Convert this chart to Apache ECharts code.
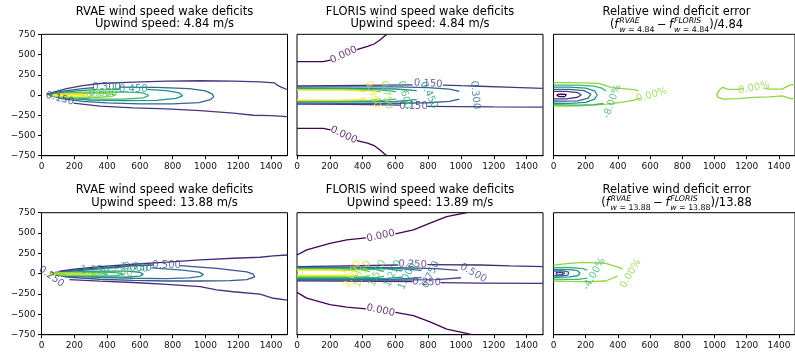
<!DOCTYPE html>
<html><head><meta charset="utf-8">
<script src="https://cdn.jsdelivr.net/npm/echarts@6/dist/echarts.min.js"></script>
<style>html,body{margin:0;padding:0;background:#fff}#c{width:795px;height:353px}</style>
</head><body><div id="c"></div>
<script>
// ---------- tick labels ----------
const X_TICKS = [0, 200, 400, 600, 800, 1000, 1200, 1400];
const Y_TICKS = [-750, -500, -250, 0, 250, 500, 750];

// ---------- titles ----------
const TITLES = [
  ['RVAE wind speed wake deficits', 'Upwind speed: 4.84 m/s'],
  ['FLORIS wind speed wake deficits', 'Upwind speed: 4.84 m/s'],
  ['Relative wind deficit error', null],
  ['RVAE wind speed wake deficits', 'Upwind speed: 13.88 m/s'],
  ['FLORIS wind speed wake deficits', 'Upwind speed: 13.89 m/s'],
  ['Relative wind deficit error', null]
];
const ERR_SPEEDS = ['4.84', '13.88'];

// ---------- Panel 1: RVAE, 4.84 m/s (contour segments, [x, y]) ----------
const P1_015 = [
  [[30,8],[80,40],[153,80],[250,115],[356,142],[560,160],[763,172],[967,176],[1170,172],[1333,163],[1420,150],[1440,118],[1465,95],[1500,65]],
  [[195,-100],[356,-138],[560,-160],[763,-172],[967,-192],[1170,-225],[1292,-250],[1400,-256],[1500,-268]]
];
const P1_030 = [[[320,92],[250,78],[120,45],[40,12],[28,0],[40,-12],[120,-45],[250,-78],[400,-98],[600,-110],[800,-110],[960,-95],[1030,-58],[1050,-20],[1040,15],[1000,50],[900,78],[700,95],[475,98]]];
const P1_045 = [[[480,72],[300,64],[150,40],[60,12],[45,0],[60,-15],[150,-42],[300,-62],[500,-70],[700,-66],[820,-42],[860,-10],[840,25],[760,55],[640,70]]];
const P1_060 = [[[60,0],[150,26],[300,36],[500,38],[620,26],[655,-6],[620,-36],[500,-50],[300,-48],[150,-32],[60,-8],[60,0]]];
const P1_075 = [[[55,0],[120,18],[250,24],[380,20],[450,4],[430,-16],[350,-28],[200,-28],[100,-20],[55,-5],[55,0]]];
const P1_090 = [[[70,0],[120,8],[230,10],[280,2],[230,-10],[120,-10],[70,-4],[70,0]]];
const P1_LABELS = [[112,-45,0.15,-15],[397,95,0.30,0],[560,72,0.45,0],[375,25,0.60,0],[360,8,0.75,0]];

// ---------- Panel 2: FLORIS, 4.84 m/s ----------
const P2_000 = [
  [[0,412],[160,412],[205,432]],
  [[365,560],[430,600],[470,630],[506,680],[547,750]],
  [[0,-412],[160,-412],[205,-432]],
  [[365,-565],[430,-595],[470,-625],[506,-680],[547,-750]]
];
const P2_015 = [
  [[0,111],[200,114],[400,118],[705,124]],
  [[890,122],[1000,115],[1116,108],[1319,95],[1500,82]],
  [[0,-112],[300,-116],[560,-122],[628,-126]],
  [[795,-140],[1000,-143],[1200,-146],[1500,-150]]
];
const P2_030 = [[[0,97],[300,100],[600,100],[800,92],[930,72],[990,45]],[[990,-50],[930,-78],[800,-96],[600,-102],[300,-102],[0,-99]]];
const P2_045 = [[[0,82],[300,82],[600,74],[730,55]],[[730,-58],[600,-78],[300,-83],[0,-83]]];
const P2_060 = [[[0,73],[300,73],[500,64],[605,42]],[[605,-50],[500,-70],[300,-75],[0,-75]]];
const P2_075 = [[[0,66],[300,66],[450,58],[510,40]],[[510,-45],[450,-64],[300,-69],[0,-69]]];
const P2_090 = [[[0,59],[250,59],[380,52],[420,35]],[[420,-40],[380,-58],[250,-63],[0,-63]]];
const P2_LABELS = [[285,495,0,25],[285,-495,0,-25],[800,140,0.15,-3],[710,-146,0.15,0],[1086,0,0.30,-85],[805,0,0.45,-65],[655,0,0.60,-75],[545,0,0.75,-80],[462,5,0.90,-70]];

// ---------- Panel 3: relative error, 4.84 m/s (percent levels) ----------
const P3_0 = [
  [[0,152],[120,152],[280,144],[320,118],[360,92],[430,80],[500,66],[528,50]],
  [[0,-136],[120,-136],[250,-126],[330,-112],[430,-88],[500,-62],[540,-40]],
  [[1180,78],[1138,70],[1080,72],[1050,95],[1030,60],[1015,10],[1018,-25],[1056,-50],[1150,-45],[1239,-30],[1340,-22],[1422,-12],[1463,-40],[1500,-48]],
  [[1310,80],[1341,72],[1420,72],[1445,100],[1473,124],[1500,128]]
];
const P3_M8 = [[[0,122],[150,122],[250,110],[300,85],[325,50]],[[0,-120],[150,-124],[250,-120],[310,-105]]];
const P3_M16 = [[[0,98],[100,98],[200,86],[255,50],[272,0],[255,-50],[200,-92],[100,-103],[0,-102]]];
const P3_M24 = [[[0,70],[100,70],[190,55],[232,12],[215,-38],[150,-72],[60,-76],[0,-74]]];
const P3_M32 = [[[0,44],[80,44],[150,30],[172,0],[150,-28],[80,-48],[0,-47]]];
const P3_M40 = [[[22,4],[45,12],[80,8],[90,-6],[70,-20],[38,-20],[22,-8],[22,4]]];
const P3_LABELS = [[610,0,0,15],[365,-80,-8,70],[1245,88,0,10]];

// ---------- Panel 4: RVAE, 13.88 m/s ----------
const P4_025 = [
  [[1500,230],[1414,218],[1333,202],[1170,190],[967,170],[763,142],[560,116],[356,86],[200,55],[110,30]],
  [[170,-72],[356,-92],[560,-108],[763,-132],[967,-160],[1068,-200],[1170,-222],[1333,-252],[1414,-302],[1500,-325]]
];
const P4_050 = [[[682,107],[560,98],[356,70],[153,36],[50,6],[42,-6],[153,-42],[356,-68],[560,-82],[763,-90],[967,-90],[1150,-85],[1252,-72],[1300,-38],[1290,-5],[1252,22],[1068,66],[845,100]]];
const P4_075 = [[[490,80],[356,60],[153,25],[60,5],[55,-8],[153,-30],[356,-46],[560,-56],[763,-60],[900,-52],[970,-32],[987,-8],[960,20],[860,45],[670,72]]];
const P4_100 = [[[65,0],[153,18],[356,32],[520,32],[600,18],[620,-8],[600,-30],[500,-42],[356,-40],[153,-25],[65,-8],[65,0]]];
const P4_125 = [[[75,0],[153,14],[280,22],[400,20],[480,8],[500,-6],[470,-22],[400,-30],[280,-30],[153,-20],[75,-6],[75,0]]];
const P4_150 = [[[60,6],[153,12],[300,12],[380,4],[400,-6],[380,-16],[300,-20],[153,-18],[60,-6],[60,6]]];
const P4_175 = [[[50,8],[150,10],[300,6],[336,-4],[300,-14],[150,-14],[50,-4],[50,8]]];
const P4_LABELS = [[60,-37,0.25,-35],[763,107,0.5,0],[585,78,0.75,-5],[565,70,1.0,-5],[326,45,1.25,0],[468,0,1.5,0]];

// ---------- Panel 5: FLORIS, 13.89 m/s ----------
const P5_000 = [
  [[0,230],[59,292],[201,374],[303,415],[420,440]],
  [[600,490],[710,538],[811,621],[913,703],[1035,752]],
  [[0,-230],[59,-300],[201,-380],[303,-410],[420,-432]],
  [[600,-475],[710,-515],[811,-592],[913,-682],[1075,-752]]
];
const P5_025 = [[[0,86],[300,95],[615,107]],[[795,112],[1116,107],[1300,95],[1500,86]],[[0,-88],[300,-92],[705,-96]],[[875,-110],[1116,-115],[1500,-120]]];
const P5_050 = [[[0,80],[300,80],[600,74],[850,62],[980,40]],[[1000,-50],[850,-72],[600,-78],[300,-79],[0,-78]]];
const P5_075 = [[[0,74],[300,74],[600,66],[760,40]],[[760,-48],[600,-68],[300,-70],[0,-68]]];
const P5_100 = [[[0,68],[300,68],[550,60],[640,35]],[[640,-42],[550,-58],[300,-60],[0,-58]]];
const P5_125 = [[[0,62],[300,62],[480,54],[530,30]],[[530,-32],[480,-48],[300,-50],[0,-48]]];
const P5_150 = [[[0,56],[250,56],[400,48],[445,25]],[[445,-24],[400,-38],[250,-40],[0,-38]]];
const P5_175 = [[[0,50],[200,50],[330,42],[370,20]],[[370,-18],[330,-30],[200,-30],[0,-28]]];
const P5_200 = [[[0,45],[150,45],[270,38],[300,20]],[[300,-10],[270,-20],[150,-20],[0,-18]]];
const P5_LABELS = [[510,465,0,12],[510,-452,0,-12],[705,115,0.25,-2],[790,-105,0.25,-2],[1075,8,0.5,-30],[816,-10,0.75,65],[672,-30,1.0,65],[585,0,1.25,65],[490,5,1.5,65],[400,-5,1.75,65],[338,-6,2.0,65]];

// ---------- Panel 6: relative error, 13.88 m/s (percent levels) ----------
const P6_0 = [[[0,105],[100,128],[183,140],[325,127],[400,80],[430,58]],[[0,-90],[100,-95],[223,-99],[325,-90],[396,-29]]];
const P6_M4 = [[[0,74],[100,76],[183,62],[210,45]],[[210,-55],[163,-68],[100,-70],[0,-66]]];
const P6_M8 = [[[0,53],[100,50],[150,38],[165,5],[150,-25],[100,-40],[0,-45]]];
const P6_M12 = [[[0,33],[60,34],[95,20],[102,0],[90,-18],[40,-26],[0,-25]]];
const P6_M16 = [[[15,12],[45,16],[70,8],[76,-5],[50,-14],[20,-12],[15,12]]];
const P6_LABELS = [[480,0,0,60],[253,-4,-4,60]];

// ---------- layout (pixels) ----------
const GRID_LEFT = [41.5, 297, 553.5], GRID_W = 246;
const GRID_TOP = [34.3, 212.7], GRID_H = [121.4, 122];
const TITLE_Y = [[12, 24.4], [190, 202.7]];

const PANELS = [
  {contours:[[0.15,P1_015],[0.30,P1_030],[0.45,P1_045],[0.60,P1_060],[0.75,P1_075],[0.90,P1_090]], labels:P1_LABELS, norm:[0,0.9], fmt:'dec', ylab:true},
  {contours:[[0,P2_000],[0.15,P2_015],[0.30,P2_030],[0.45,P2_045],[0.60,P2_060],[0.75,P2_075],[0.90,P2_090]], labels:P2_LABELS, norm:[0,0.9], fmt:'dec', ylab:false},
  {contours:[[0,P3_0],[-8,P3_M8],[-16,P3_M16],[-24,P3_M24],[-32,P3_M32],[-40,P3_M40]], labels:P3_LABELS, norm:[-40,8], fmt:'pct', ylab:false},
  {contours:[[0.25,P4_025],[0.5,P4_050],[0.75,P4_075],[1.0,P4_100],[1.25,P4_125],[1.5,P4_150],[1.75,P4_175]], labels:P4_LABELS, norm:[0,2], fmt:'dec', ylab:true},
  {contours:[[0,P5_000],[0.25,P5_025],[0.5,P5_050],[0.75,P5_075],[1.0,P5_100],[1.25,P5_125],[1.5,P5_150],[1.75,P5_175],[2.0,P5_200]], labels:P5_LABELS, norm:[0,2], fmt:'dec', ylab:false},
  {contours:[[0,P6_0],[-4,P6_M4],[-8,P6_M8],[-12,P6_M12],[-16,P6_M16]], labels:P6_LABELS, norm:[-20,4], fmt:'pct', ylab:false}
];

// ---------- viridis colormap ----------
const VIR = ['#440154','#482475','#414487','#355f8d','#2a788e','#21918c','#22a884','#44bf70','#7ad151','#bddf26','#fde725'];
function hex2rgb(h){return [parseInt(h.substr(1,2),16),parseInt(h.substr(3,2),16),parseInt(h.substr(5,2),16)];}
function viridis(t){
  t = Math.max(0, Math.min(1, t));
  const f = t * 10, i = Math.min(9, Math.floor(f)), r = f - i;
  const a = hex2rgb(VIR[i]), b = hex2rgb(VIR[i+1]);
  return 'rgb(' + a.map((v,k)=>Math.round(v + (b[k]-v)*r)).join(',') + ')';
}
function col(lv, norm){ return viridis((lv - norm[0]) / (norm[1] - norm[0])); }
function fmtLevel(lv, kind){ return kind === 'pct' ? lv.toFixed(2) + '%' : lv.toFixed(3); }

const FONT = '"DejaVu Sans", "Liberation Sans", sans-serif';
const grids = [], xAxes = [], yAxes = [], series = [], graphics = [];

PANELS.forEach((p, i) => {
  const row = i < 3 ? 0 : 1, c = i % 3;
  grids.push({left: GRID_LEFT[c], top: GRID_TOP[row], width: GRID_W, height: GRID_H[row],
    show: true, borderColor: '#000', borderWidth: 1, backgroundColor: 'transparent', containLabel: false});
  xAxes.push({gridIndex: i, type: 'value', min: 0, max: 1500, interval: 200,
    axisLine: {show: true, onZero: false, lineStyle: {color: '#000', width: 1}},
    axisTick: {show: true, length: 3.5, customValues: X_TICKS, lineStyle: {color: '#000', width: 1}},
    axisLabel: {show: true, customValues: X_TICKS, fontSize: 9, fontFamily: FONT, color: '#111', margin: 6,
      formatter: v => String(v)},
    splitLine: {show: false}});
  yAxes.push({gridIndex: i, type: 'value', min: -750, max: 750, interval: 250,
    axisLine: {show: false, onZero: false},
    axisTick: {show: p.ylab, length: 3.5, customValues: Y_TICKS, lineStyle: {color: '#000', width: 1}},
    axisLabel: {show: p.ylab, customValues: Y_TICKS, fontSize: 9, fontFamily: FONT, color: '#111', margin: 6,
      formatter: v => v < 0 ? '\u2212' + Math.abs(v) : String(v)},
    splitLine: {show: false}});
  p.contours.forEach(([lv, segs]) => {
    segs.forEach(seg => series.push({type: 'line', xAxisIndex: i, yAxisIndex: i, data: seg,
      symbol: 'none', showSymbol: false, smooth: false, clip: true, silent: true, animation: false, z: 2,
      lineStyle: {color: col(lv, p.norm), width: 1.3}}));
  });
  series.push({type: 'scatter', xAxisIndex: i, yAxisIndex: i, symbolSize: 0.1, clip: false, silent: true, animation: false, z: 5,
    itemStyle: {color: 'transparent'},
    label: {show: true, position: 'inside', fontSize: 10, fontFamily: FONT, align: 'center', verticalAlign: 'middle'},
    data: p.labels.map(([x, y, lv, rot]) => ({value: [x, y],
      label: {show: true, formatter: fmtLevel(lv, p.fmt), rotate: rot, color: col(lv, p.norm)}}))});
  // titles
  const cx = GRID_LEFT[c] + GRID_W / 2;
  const t = TITLES[i];
  graphics.push(txt(cx, TITLE_Y[row][0], t[0], '11.5px ' + FONT, 'center'));
  if (t[1]) graphics.push(txt(cx, TITLE_Y[row][1], t[1], '11.5px ' + FONT, 'center'));
  else mathLine(cx, TITLE_Y[row][1] + 0.6, ERR_SPEEDS[row]).forEach(g => graphics.push(g));
});

function txt(x, y, s, font, align){
  return {type: 'text', x: x, y: y, silent: true,
    style: {text: s, font: font, fill: '#000', textAlign: align, align: align, textVerticalAlign: 'middle', verticalAlign: 'middle'}};
}
function mathLine(cx, cy, spd){
  const big = 11.5, small = 7.8;
  const ctx = document.createElement('canvas').getContext('2d');
  const fnt = (it, sz) => (it ? 'italic ' : '') + sz + 'px ' + FONT;
  const w = (t, it, sz) => { ctx.font = fnt(it, sz); return ctx.measureText(t).width; };
  const els = []; let x = 0;
  const add = (t, it, sz, dy, xx) => els.push({t, it, sz, dy, x: xx});
  function fterm(sup){
    add('f', true, big, 0, x); x += w('f', true, big) + 0.8;
    add(sup, true, small, -4.2, x);
    add('w', true, small, 4.6, x);
    const wW = w('w', true, small);
    add(' = ' + spd, false, small, 4.6, x + wW);
    x += Math.max(w(sup, true, small), wW + w(' = ' + spd, false, small));
  }
  add('(', false, big, 0, x); x += w('(', false, big);
  fterm('RVAE');
  x += 2.5; add('\u2212', false, big, 0, x); x += w('\u2212', false, big) + 2.5;
  fterm('FLORIS');
  add(')/' + spd, false, big, 0, x); x += w(')/' + spd, false, big);
  const x0 = cx - x / 2;
  return els.map(e => txt(x0 + e.x, cy + e.dy, e.t, fnt(e.it, e.sz), 'left'));
}

const chart = echarts.init(document.getElementById('c'), null, {renderer: 'canvas', width: 795, height: 353});
chart.setOption({animation: false, backgroundColor: '#fff', grid: grids, xAxis: xAxes, yAxis: yAxes, series: series, graphic: {elements: graphics}});
</script>
</body></html>
